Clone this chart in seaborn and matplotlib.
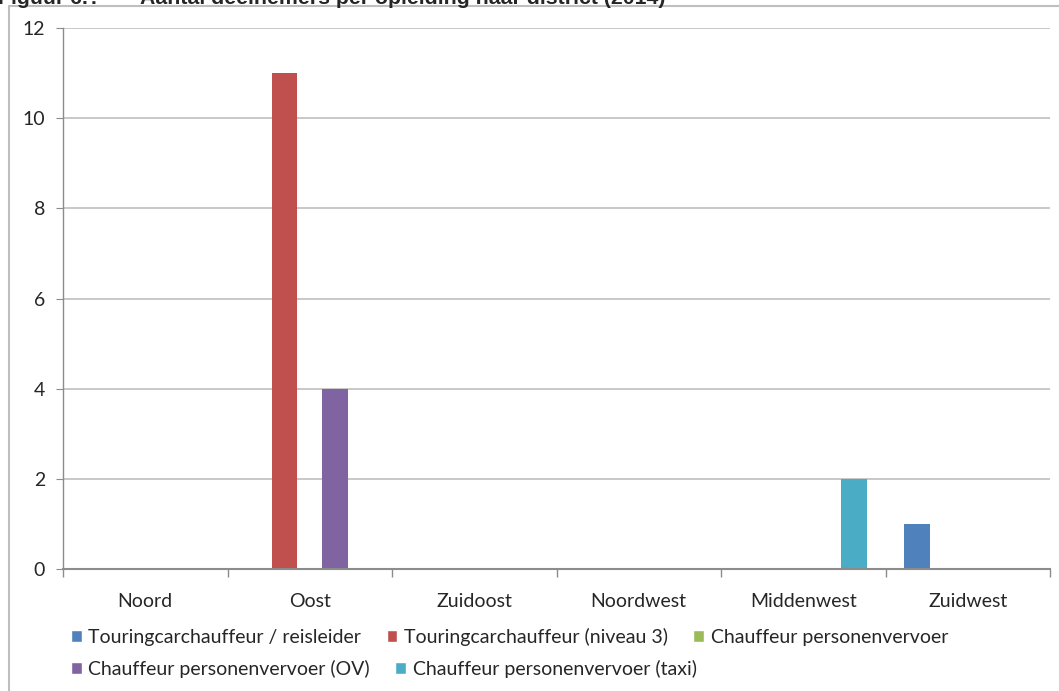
import matplotlib
matplotlib.use("Agg")
import matplotlib.pyplot as plt
import seaborn as sns
import pandas as pd
from matplotlib.lines import Line2D
from matplotlib.patches import Patch

districts = ["Noord", "Oost", "Zuidoost", "Noordwest", "Middenwest", "Zuidwest"]
series_names = [
    "Touringcarchauffeur / reisleider",
    "Touringcarchauffeur (niveau 3)",
    "Chauffeur personenvervoer",
    "Chauffeur personenvervoer (OV)",
    "Chauffeur personenvervoer (taxi)",
]
touring_reisleider = [0, 0, 0, 0, 0, 1]
touring_niveau3 = [0, 11, 0, 0, 0, 0]
chauffeur_pv = [0, 0, 0, 0, 0, 0]
chauffeur_ov = [0, 4, 0, 0, 0, 0]
chauffeur_taxi = [0, 0, 0, 0, 2, 0]
colors = ["#4F81BD", "#C0504D", "#9BBB59", "#8064A2", "#4BACC6"]
yticks = [0, 2, 4, 6, 8, 10, 12]
title_num = "Figuur 6.?"
title_text = "Aantal deelnemers per opleiding naar district (2014)"

all_series = [touring_reisleider, touring_niveau3, chauffeur_pv, chauffeur_ov, chauffeur_taxi]
rows = []
for name, vals in zip(series_names, all_series):
    for d, v in zip(districts, vals):
        rows.append({"district": d, "opleiding": name, "aantal": v})
df = pd.DataFrame(rows)

sns.set_style("white")
plt.rcParams["font.family"] = ["Lato", "DejaVu Sans"]

fig = plt.figure(figsize=(10.59, 6.91), dpi=100)
W, H = 1059, 691
ax = fig.add_axes([63 / W, 1 - 569 / H, (1050 - 63) / W, (569 - 28) / H])

sns.barplot(data=df, x="district", y="aantal", hue="opleiding",
            order=districts, hue_order=series_names, palette=colors,
            saturation=1, width=0.775, linewidth=0, errorbar=None,
            ax=ax, legend=True)

ax.set_ylim(0, 12)
ax.set_xlim(-0.5, len(districts) - 0.5)
ax.set_yticks(yticks)
ax.set_yticklabels([str(t) for t in yticks], fontsize=14)
ax.set_xlabel("")
ax.set_ylabel("")
ax.yaxis.grid(True, color="#BFBFBF", linewidth=1.2)
ax.set_axisbelow(True)
for s in ["top", "right"]:
    ax.spines[s].set_visible(False)
ax.spines["left"].set_color("#8C8C8C")
ax.spines["left"].set_linewidth(1.0)
ax.spines["bottom"].set_color("#8C8C8C")
ax.spines["bottom"].set_linewidth(1.5)
ax.tick_params(axis="y", which="major", left=True, length=5, color="#8C8C8C", pad=8)
ax.set_xticks(range(len(districts)))
ax.set_xticklabels(districts, fontsize=14)
ax.set_xticks([i - 0.5 for i in range(len(districts) + 1)], minor=True)
ax.tick_params(axis="x", which="major", length=0, pad=17)
ax.tick_params(axis="x", which="minor", bottom=True, length=6, color="#8C8C8C", width=1)

ax.get_legend().remove()
handles = [Patch(facecolor=c) for c in colors]
leg_kw = dict(loc="center left", frameon=False, fontsize=14, handlelength=0.55,
              handleheight=0.55, handletextpad=0.35, columnspacing=1.3, borderaxespad=0,
              borderpad=0)
leg1 = fig.legend(handles[:3], series_names[:3], ncol=3,
                  bbox_to_anchor=(71 / W, 1 - 637 / H), **leg_kw)
leg2 = fig.legend(handles[3:], series_names[3:], ncol=2,
                  bbox_to_anchor=(71 / W, 1 - 669 / H), **leg_kw)

# chart border (partial, as in the cropped reference)
fig.add_artist(Line2D([9 / W, 9 / W], [0, 1 - 5.5 / H], transform=fig.transFigure,
                      color="#BFBFBF", linewidth=1.5))
fig.add_artist(Line2D([9 / W, 1], [1 - 5.5 / H, 1 - 5.5 / H], transform=fig.transFigure,
                      color="#BFBFBF", linewidth=1.5))

tkw = dict(fontsize=15.3, fontweight="bold", family=["Liberation Sans", "DejaVu Sans"],
           va="baseline", ha="left")
fig.text(-2 / W, 1 - 3.5 / H, title_num, **tkw)
fig.text(140 / W, 1 - 3.5 / H, title_text, **tkw)

fig.savefig("out.png", dpi=100)
